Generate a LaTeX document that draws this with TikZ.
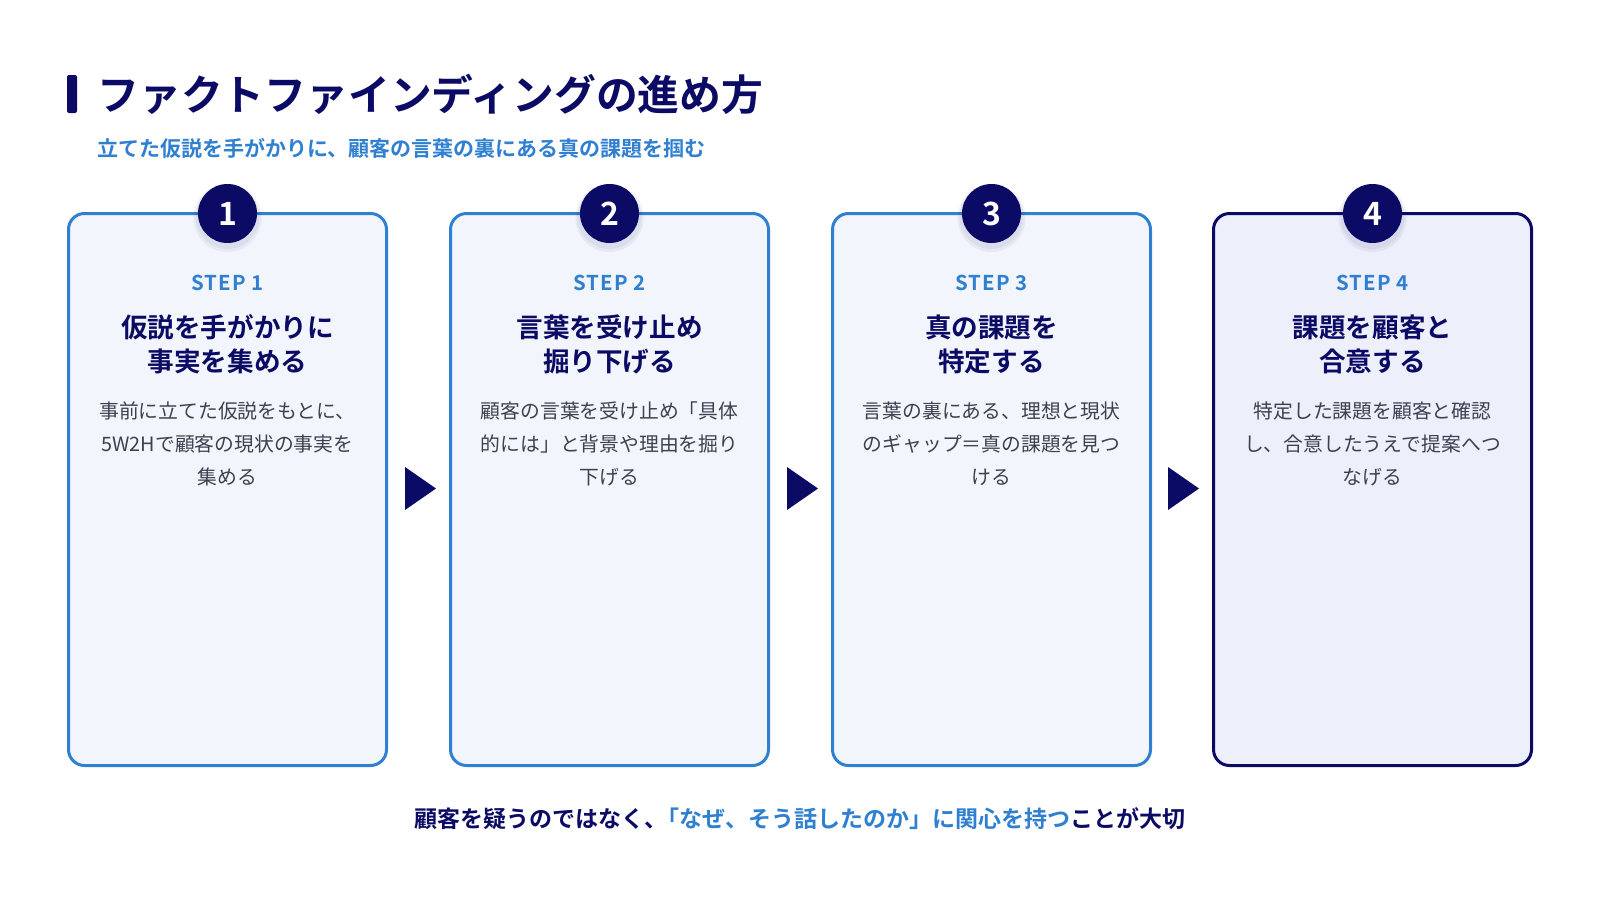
\documentclass[tikz,border=0pt]{standalone}
\usepackage{fontspec}
\setmainfont{Noto Sans CJK JP}[BoldFont={Noto Sans CJK JP Bold}]
\newfontfamily\steplatin{Noto Sans CJK JP Bold}[LetterSpace=6]
\usetikzlibrary{positioning}

\definecolor{navy}{HTML}{0B0B66}
\definecolor{stepblue}{HTML}{2F80D0}
\definecolor{cardfill}{HTML}{F2F5FB}
\definecolor{lastfill}{HTML}{EDEFFA}
\definecolor{bodygray}{HTML}{3C4150}

\tikzset{
    card/.style = {draw=stepblue, line width=1.5pt, fill=cardfill, rounded corners=8pt,
                   minimum width=159pt, minimum height=276pt, inner sep=0pt},
    lastcard/.style = {card, draw=navy, fill=lastfill},
    numdot/.style = {circle, fill=navy, minimum size=29.5pt, inner sep=0pt,
                     text=white, font=\bfseries\fontsize{16}{16}\selectfont},
    steptag/.style = {text=stepblue, inner sep=0pt, font=\steplatin\fontsize{10.2}{10.2}\selectfont},
    headline/.style = {text=navy, inner sep=0pt, align=center,
                       font=\bfseries\fontsize{13.3}{17}\selectfont},
    bodytext/.style = {text=bodygray, inner sep=0pt, align=center,
                       font=\fontsize{9.9}{16.5}\selectfont}
}

\begin{document}
\begin{tikzpicture}[x=0.5pt, y=-0.5pt]

    \useasboundingbox (0,0) rectangle (1600,900);
    \fill[white] (0,0) rectangle (1600,900);

    % title
    \fill[navy, rounded corners=1pt] (67,75) rectangle (77,113);
    \node[anchor=west, inner sep=0pt, text=navy, font=\bfseries\fontsize{20.9}{20.9}\selectfont]
        (title) at (97,94) {ファクトファインディングの進め方};
    \node[anchor=west, inner sep=0pt, text=stepblue, font=\bfseries\fontsize{10.5}{10.5}\selectfont]
        (subtitle) at (97,148) {立てた仮説を手がかりに、顧客の言葉の裏にある真の課題を掴む};

    % cards
    \node[card] (card1) at (227.5,489.5) {};
    \node[card] (card2) at (609.5,489.5) {};
    \node[card] (card3) at (991.5,489.5) {};
    \node[lastcard] (card4) at (1372.5,489.5) {};

    % arrows between cards
    \fill[navy] (405,467) -- (436,488.5) -- (405,510) -- cycle;
    \fill[navy] (787,467) -- (818,488.5) -- (787,510) -- cycle;
    \fill[navy] (1168,467) -- (1199,488.5) -- (1168,510) -- cycle;

    % number dots
    \foreach \cx in {227.5, 609.5, 991.5, 1372.5} {
        \fill[navy, opacity=0.05] (\cx,218) circle (34);
        \fill[navy, opacity=0.05] (\cx,217) circle (32);
    }
    \node[numdot] (dot1) at (227.5,213.5) {1};
    \node[numdot] (dot2) at (609.5,213.5) {2};
    \node[numdot] (dot3) at (991.5,213.5) {3};
    \node[numdot] (dot4) at (1372.5,213.5) {4};

    % step 1
    \node[steptag] (step1) at (227.5,283) {STEP 1};
    \node[headline] (head1) at (227.5,344) {仮説を手がかりに\\事実を集める};
    \node[bodytext] (body1) at (227.5,444) {事前に立てた仮説をもとに、\\5W2Hで顧客の現状の事実を\\集める};

    % step 2
    \node[steptag] (step2) at (609.5,283) {STEP 2};
    \node[headline] (head2) at (609.5,344) {言葉を受け止め\\掘り下げる};
    \node[bodytext] (body2) at (609.5,444) {顧客の言葉を受け止め「具体\\的には」と背景や理由を掘り\\下げる};

    % step 3
    \node[steptag] (step3) at (991.5,283) {STEP 3};
    \node[headline] (head3) at (991.5,344) {真の課題を\\特定する};
    \node[bodytext] (body3) at (991.5,444) {言葉の裏にある、理想と現状\\のギャップ＝真の課題を見つ\\ける};

    % step 4
    \node[steptag] (step4) at (1372.5,283) {STEP 4};
    \node[headline] (head4) at (1372.5,344) {課題を顧客と\\合意する};
    \node[bodytext] (body4) at (1372.5,444) {特定した課題を顧客と確認\\し、合意したうえで提案へつ\\なげる};

    % closing message
    \node[inner sep=0pt, text=navy, font=\bfseries\fontsize{11.5}{11.5}\selectfont] (closing) at (800,819)
        {顧客を疑うのではなく、\hspace{-0.5em}\textcolor{stepblue}{「なぜ、そう話したのか」に関心を持つ}ことが大切};

\end{tikzpicture}
\end{document}
